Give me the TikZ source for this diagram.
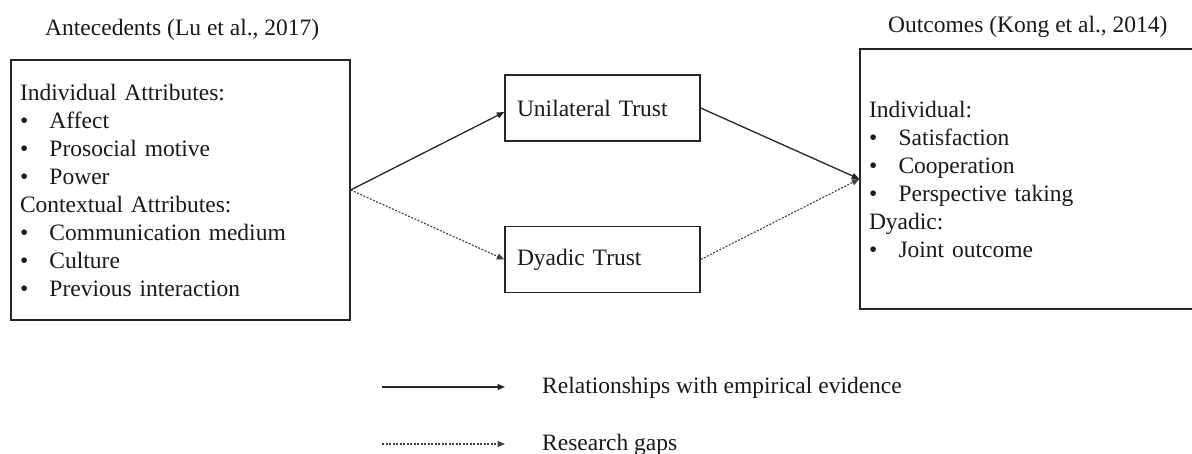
\documentclass[tikz,border=0pt]{standalone}
\usepackage{fontspec}
\setmainfont{Liberation Serif}
\usetikzlibrary{arrows.meta}
\newcommand{\bitem}[1]{\makebox[29.5pt][l]{\textbullet}#1}
\begin{document}
\begin{tikzpicture}[x=1pt,y=-1pt,
  every node/.style={font=\fontsize{23.5}{28}\selectfont, text=black!90},
  bigbox/.style={draw=black!85, line width=1.3pt, align=left, inner xsep=9pt, inner ysep=0pt, minimum height=#1},
  midbox/.style={draw=black!85, line width=1.3pt, align=left, text width=171pt, inner xsep=12pt, inner ysep=0pt, minimum height=66pt},
  lbl/.style={anchor=base west, inner sep=0pt},
  solidarrow/.style={draw=black!85, line width=1.3pt, -{Triangle[length=7.5pt,width=6pt]}},
  gaparrow/.style={draw=black!75, line width=1.1pt, dash pattern=on 2pt off 1.5pt, -{Triangle[length=7.5pt,width=6pt]}}
]
\useasboundingbox (0,0) rectangle (1192,454);
\clip (0,0) rectangle (1192,454);

\node[lbl] (antlbl) at (45,36) {Antecedents (Lu et al., 2017)};
\node[lbl] (outlbl) at (888,33) {Outcomes (Kong et al., 2014)};

\node[bigbox=260pt, text width=321pt] (ante) at (180.5,190) {%
Individual Attributes:\\
\bitem{Affect}\\
\bitem{Prosocial motive}\\
\bitem{Power}\\
Contextual Attributes:\\
\bitem{Communication medium}\\
\bitem{Culture}\\
\bitem{Previous interaction}};

\node[midbox] (unil) at (602.5,108) {Unilateral Trust};
\node[midbox] (dyad) at (602.5,259.5) {Dyadic Trust};

\node[bigbox=260pt, text width=320pt] (outc) at (1029,179) {%
Individual:\\
\bitem{Satisfaction}\\
\bitem{Cooperation}\\
\bitem{Perspective taking}\\
Dyadic:\\
\bitem{Joint outcome}};

\draw[solidarrow] (ante.east) -- ([yshift=-4pt]unil.west);
\draw[gaparrow] (ante.east) -- (dyad.west);
\draw[gaparrow] (dyad.east) -- (outc.west);
\draw[solidarrow] (unil.east) -- (outc.west);

\coordinate (s1) at (382,387);
\coordinate (s2) at (505,387);
\coordinate (d1) at (382,444);
\coordinate (d2) at (505,444);
\draw[solidarrow] (s1) -- (s2);
\draw[gaparrow] (d1) -- (d2);
\node[lbl] (leg1) at (542,394) {Relationships with empirical evidence};
\node[lbl] (leg2) at (542,450) {Research gaps};
\end{tikzpicture}
\end{document}
